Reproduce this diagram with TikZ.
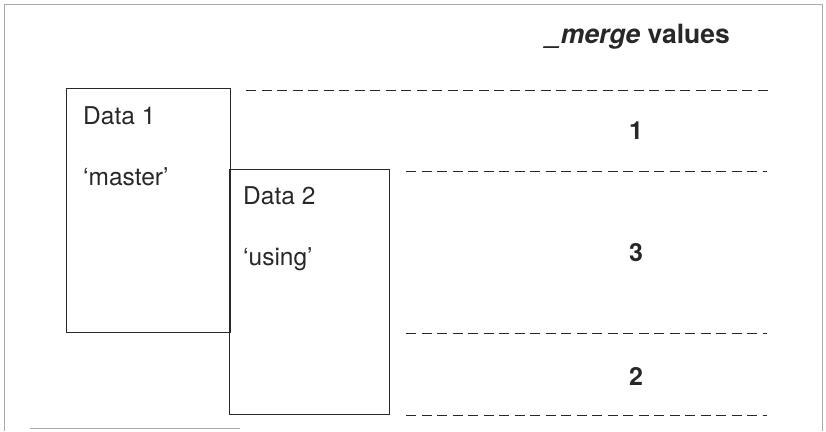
\documentclass[tikz,border=0pt]{standalone}
\usepackage{fontspec}
\setmainfont{TeX Gyre Heros}
\usetikzlibrary{positioning}
\usetikzlibrary{calc}
\definecolor{myink}{RGB}{40,40,40}
\definecolor{myframe}{RGB}{170,170,170}
\newcommand\databox[4]{%
  \node[databox,minimum width=#3pt,minimum height=#4pt] (#1) at (#2) {};
}

\begin{document}
\begin{tikzpicture}[
x=1pt, y=-1pt,
databox/.style={
  rectangle,
  draw=myink,
  line width=1.1pt,
  anchor=north west,
  inner sep=0pt},
lbl/.style={
  anchor=base west,
  inner sep=0pt,
  text=myink,
  font=\fontsize{24.5}{29}\selectfont},
num/.style={
  anchor=base,
  inner sep=0pt,
  text=myink,
  font=\fontsize{25}{30}\selectfont\bfseries},
sep/.style={
  draw=myink,
  line width=1pt,
  dash pattern=on 10pt off 5.5pt}
]
\useasboundingbox (0,0) rectangle (826,431);
% outer frame
\draw[myframe, line width=0.8pt] (4,431) -- (4,4) -- (822,4) -- (822,431);
\draw[myframe, line width=0.8pt] (30,428) -- (240,428);
% the two data sets
\databox{d1}{66,88}{164}{244}
\databox{d2}{229,169}{160}{245}
\node[lbl] (d1name) at ($(d1.north west)+(17,36)$) {Data 1};
\node[lbl] (d1role) at ($(d1.north west)+(17,97)$) {`master'};
\node[lbl] (d2name) at ($(d2.north west)+(14,35)$) {Data 2};
\node[lbl] (d2role) at ($(d2.north west)+(14,96)$) {`using'};
% result rows
\node[num, font=\fontsize{26.5}{31}\selectfont\bfseries] (title) at (638,43) {\textit{\_merge} values};
\draw[sep] (246,90) -- (772,90);
\draw[sep] (406,171) -- (767,171);
\draw[sep] (406,333) -- (767,333);
\draw[sep] (406,415) -- (767,415);
\node[num] (m1) at (636,139) {1};
\node[num] (m3) at (636,261) {3};
\node[num] (m2) at (636,385) {2};
\end{tikzpicture}
\end{document}
